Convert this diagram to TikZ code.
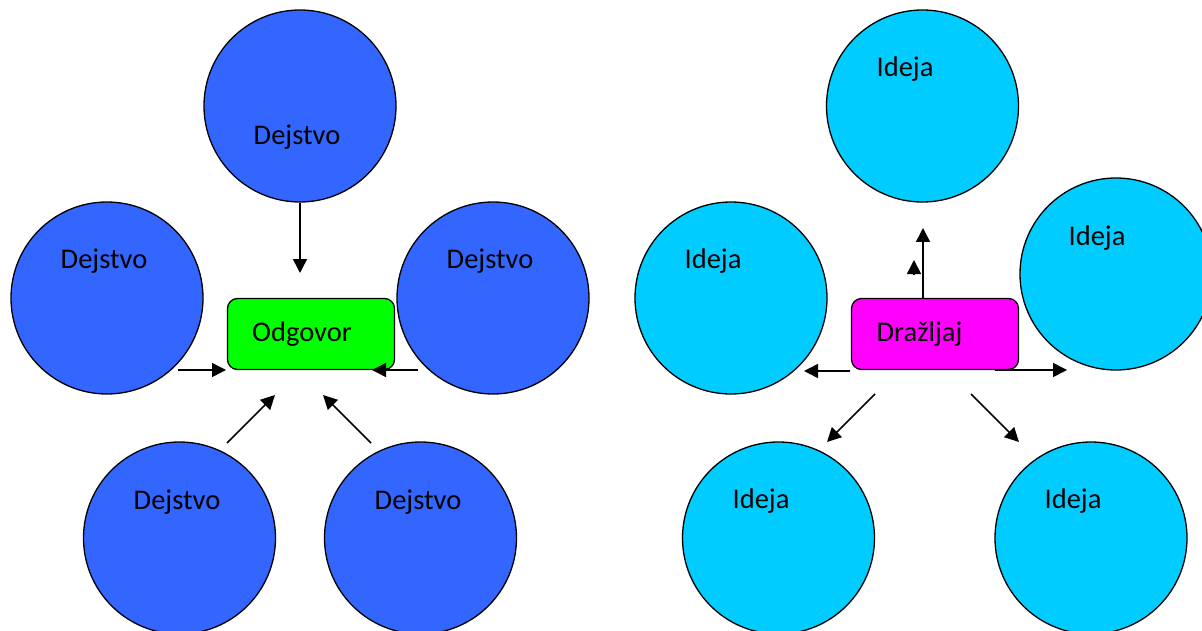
\documentclass[tikz,border=0pt]{standalone}
\usepackage{fontspec}
\setmainfont{Carlito}
\usetikzlibrary{arrows.meta}
\definecolor{dejblue}{HTML}{3366FF}
\definecolor{idecyan}{HTML}{00CCFF}
\definecolor{odggreen}{HTML}{00FF00}
\definecolor{drzmagenta}{HTML}{FF00FF}
\tikzstyle{circ} = [draw, circle, line width=1.3pt, minimum size=192pt, inner sep=0pt]
\tikzstyle{dejstvo} = [circ, fill=dejblue]
\tikzstyle{ideja} = [circ, fill=idecyan]
\tikzstyle{block} = [draw, rectangle, rounded corners=10pt, line width=1.3pt, minimum width=167pt, minimum height=71pt]
\tikzstyle{lbl} = [anchor=base, inner sep=0pt]

\begin{document}
\begin{tikzpicture}[x=1pt, y=-1pt, line width=1.5pt, >={Triangle[length=14pt, width=14pt]}]
    \tikzset{font={\fontsize{28.5pt}{34}\selectfont}}
    \useasboundingbox (0,0) rectangle (1202,631);
    % Left: Odgovor
    \node [dejstvo] (dtop) at (300,106) {};
    \node [dejstvo] (dleft) at (107,298) {};
    \node [dejstvo] (dright) at (493,298) {};
    \node [dejstvo] (dbl) at (179.5,538) {};
    \node [dejstvo] (dbr) at (420.5,538) {};
    \node [block, fill=odggreen] (odg) at (311,334) {};
    \node [lbl] (dtoptxt) at (297,145) {Dejstvo};
    \node [lbl] (dlefttxt) at (104,268) {Dejstvo};
    \node [lbl] (drighttxt) at (490,268) {Dejstvo};
    \node [lbl] (dbltxt) at (177,509) {Dejstvo};
    \node [lbl] (dbrtxt) at (418,509) {Dejstvo};
    \node [lbl] (odgtxt) at (302,341) {Odgovor};
    \coordinate (oin1) at (300,273);
    \coordinate (oin2s) at (178,370);
    \coordinate (oin2) at (226,370);
    \coordinate (oin3s) at (418,370);
    \coordinate (oin3) at (372,370);
    \coordinate (oin4s) at (227,443);
    \coordinate (oin4) at (275,395);
    \coordinate (oin5s) at (371,443);
    \coordinate (oin5) at (323,395);
    \draw [->] (dtop.south) -- (oin1);
    \draw [->] (oin2s) -- (oin2);
    \draw [->] (oin3s) -- (oin3);
    \draw [->] (oin4s) -- (oin4);
    \draw [->] (oin5s) -- (oin5);

    % Right: Drazljaj
    \node [ideja] (itop) at (922.5,106) {};
    \node [ideja] (ileft) at (731,298) {};
    \node [ideja] (iright) at (1116,274) {};
    \node [ideja] (ibl) at (778.5,538) {};
    \node [ideja] (ibr) at (1091,538) {};
    \node [block, fill=drzmagenta] (drz) at (935,334) {};
    \node [lbl] (itoptxt) at (905,77) {Ideja};
    \node [lbl] (ilefttxt) at (713,268) {Ideja};
    \node [lbl] (irighttxt) at (1097,245) {Ideja};
    \node [lbl] (ibltxt) at (761,508) {Ideja};
    \node [lbl] (ibrtxt) at (1073,508) {Ideja};
    \node [lbl] (drztxt) at (919.5,341) {Dražljaj};
    \coordinate (dout1) at (923,228);
    \coordinate (dstub) at (914,274);
    \coordinate (dstubtip) at (914,260);
    \coordinate (dout2s) at (850,371);
    \coordinate (dout2) at (804,371);
    \coordinate (dout3s) at (995,370);
    \coordinate (dout3) at (1067,370);
    \coordinate (dout4s) at (875,394);
    \coordinate (dout4) at (827,442);
    \coordinate (dout5s) at (971,394);
    \coordinate (dout5) at (1019,442);
    \draw [->] (drz.north -| dout1) -- (dout1);
    \draw [->] (dstub) -- (dstubtip);
    \draw [->] (dout2s) -- (dout2);
    \draw [->] (dout3s) -- (dout3);
    \draw [->] (dout4s) -- (dout4);
    \draw [->] (dout5s) -- (dout5);
\end{tikzpicture}
\end{document}
